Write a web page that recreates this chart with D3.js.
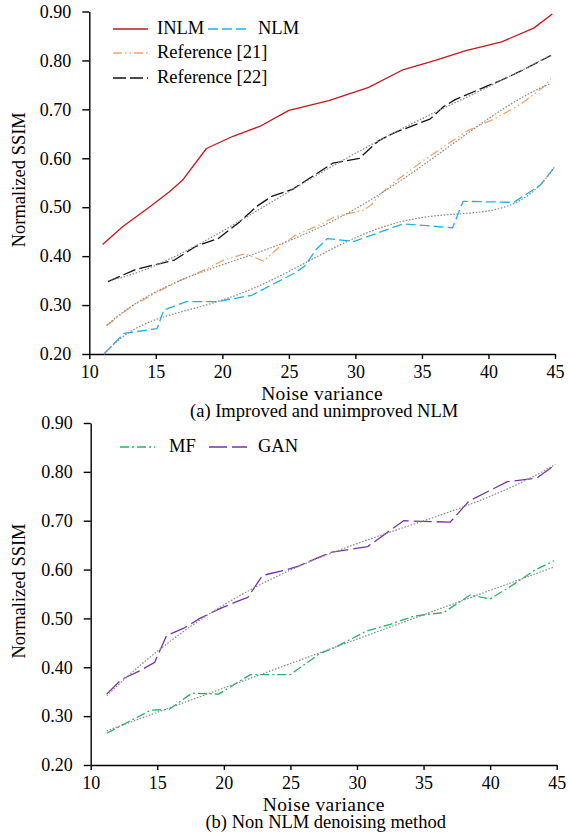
<!DOCTYPE html>
<html>
<head>
<meta charset="utf-8">
<script src="https://cdn.jsdelivr.net/npm/d3@7"></script>
<style>
  body { margin: 0; background: #fff; }
  svg { display: block; }
</style>
</head>
<body>
<svg id="chart" width="569" height="838"></svg>
<script>
// Axis ticks shared by both panels
const noiseTicks = [10, 15, 20, 25, 30, 35, 40, 45];
const ssimTicks = [0.2, 0.3, 0.4, 0.5, 0.6, 0.7, 0.8, 0.9];

// Panel (a): [noise variance, normalized SSIM]
const inlm = [[11, 0.424], [12.5, 0.46], [14.5, 0.50], [16, 0.531], [17, 0.555], [18.8, 0.62],
  [20.8, 0.645], [22.8, 0.665], [25, 0.698], [28, 0.718], [31, 0.745], [33.5, 0.78], [36, 0.80],
  [38.3, 0.82], [41, 0.838], [43.4, 0.866], [44.8, 0.895]];
const nlm = [[11.1, 0.20], [12.6, 0.242], [13.6, 0.246], [15.1, 0.252], [15.6, 0.29], [17.3, 0.307],
  [19.6, 0.307], [22.2, 0.32], [23.9, 0.344], [25.4, 0.365], [26.2, 0.38], [27, 0.412], [27.9, 0.436],
  [29.9, 0.43], [33.6, 0.466], [37.3, 0.458], [38.1, 0.512], [41.9, 0.51], [43.9, 0.545], [45, 0.583]];
const ref21 = [[11.3, 0.258], [13.2, 0.298], [15, 0.325], [16.8, 0.35], [18.5, 0.37], [20.1, 0.392],
  [21.7, 0.405], [23.1, 0.39], [24.4, 0.422], [25.5, 0.443], [27.4, 0.465], [28.4, 0.48], [30.6, 0.494],
  [31.2, 0.505], [32, 0.53], [33.1, 0.555], [35.1, 0.595], [37.1, 0.632], [38.4, 0.656], [40.4, 0.68],
  [42.4, 0.71], [44.1, 0.745], [44.7, 0.762]];
const ref22 = [[11.4, 0.348], [13.5, 0.373], [16.4, 0.392], [18, 0.42], [19.7, 0.436], [21.3, 0.47],
  [22.6, 0.502], [23.7, 0.522], [25.3, 0.537], [28.3, 0.59], [30.3, 0.60], [31.7, 0.635], [32.9, 0.652],
  [35.6, 0.68], [36.6, 0.705], [37.5, 0.72], [39.4, 0.742], [41, 0.76], [42.4, 0.778], [44.7, 0.81]];

// Panel (b)
const mf = [[11.2, 0.265], [12.6, 0.285], [14.5, 0.312], [15.9, 0.314], [17.6, 0.347], [19.6, 0.345],
  [22, 0.385], [25, 0.385], [27.2, 0.428], [28.3, 0.44], [30.7, 0.474], [32.5, 0.488], [34.3, 0.505],
  [36.5, 0.512], [38.5, 0.548], [40, 0.54], [41.5, 0.565], [43.3, 0.598], [44.8, 0.618]];
const gan = [[11.2, 0.345], [12.3, 0.375], [13.7, 0.393], [14.8, 0.41], [15.7, 0.465], [17, 0.48],
  [18.2, 0.50], [19.7, 0.52], [21, 0.535], [21.8, 0.543], [22.9, 0.588], [24.5, 0.598], [25.6, 0.607],
  [28, 0.635], [30.8, 0.647], [33.5, 0.70], [37, 0.697], [38.4, 0.74], [41.3, 0.78], [43.5, 0.787],
  [44.9, 0.815]];

const FONT = "Liberation Serif, Times New Roman, serif";
const svg = d3.select("#chart");

// Least-squares polynomial fit, returns a function of x
function polyFit(pts, order) {
  const n = order + 1;
  const A = Array.from({length: n}, () => new Array(n + 1).fill(0));
  pts.forEach(([px, py]) => {
    const t = (px - 28) / 17;
    for (let i = 0; i < n; i++) {
      for (let j = 0; j < n; j++) A[i][j] += Math.pow(t, i + j);
      A[i][n] += py * Math.pow(t, i);
    }
  });
  for (let c = 0; c < n; c++) {
    let p = c;
    for (let r = c + 1; r < n; r++) if (Math.abs(A[r][c]) > Math.abs(A[p][c])) p = r;
    [A[c], A[p]] = [A[p], A[c]];
    for (let r = 0; r < n; r++) {
      if (r === c) continue;
      const f = A[r][c] / A[c][c];
      for (let k = c; k <= n; k++) A[r][k] -= f * A[c][k];
    }
  }
  const coef = A.map((row, i) => row[n] / row[i]);
  return xv => {
    const t = (xv - 28) / 17;
    return coef.reduce((s, c, i) => s + c * Math.pow(t, i), 0);
  };
}

// Dotted trend curve sampled across the series' own x-range
function trendPoints(pts, order) {
  const f = polyFit(pts, order);
  const x0 = d3.min(pts, d => d[0]), x1 = d3.max(pts, d => d[0]);
  return d3.range(0, 81).map(i => {
    const xv = x0 + (x1 - x0) * i / 80;
    return [xv, f(xv)];
  });
}

function addText(g, x, y, str, size) {
  return g.append("text").attr("x", x).attr("y", y)
    .attr("font-family", FONT).attr("font-size", size).attr("fill", "#000").text(str);
}

function drawPanel(cfg) {
  const x = d3.scaleLinear().domain([10, 45]).range([cfg.left, cfg.right]);
  const y = d3.scaleLinear().domain([0.2, 0.9]).range([cfg.bottom, cfg.top]);
  const g = svg.append("g");

  const xAxis = g.append("g")
    .attr("transform", `translate(0,${cfg.bottom})`)
    .call(d3.axisBottom(x).tickValues(noiseTicks).tickSize(5).tickSizeOuter(0).tickPadding(6));
  const yAxis = g.append("g")
    .attr("transform", `translate(${cfg.left},0)`)
    .call(d3.axisLeft(y).tickValues(ssimTicks).tickFormat(d3.format(".2f"))
      .tickSize(7).tickSizeOuter(0).tickPadding(11));
  [xAxis, yAxis].forEach(a => {
    a.attr("font-family", FONT).attr("font-size", 18);
    a.selectAll("path, line").attr("stroke", "#000").attr("stroke-width", 1.4);
    a.selectAll("text").attr("fill", "#000");
  });

  const line = d3.line().x(d => x(d[0])).y(d => y(d[1]));

  cfg.series.forEach(s => {
    g.append("path").attr("d", line(s.data))
      .attr("fill", "none").attr("stroke", s.color).attr("stroke-width", 1.3)
      .attr("stroke-dasharray", s.dash).attr("stroke-linejoin", "round");
  });
  cfg.series.filter(s => s.trend).forEach(s => {
    g.append("path").attr("d", line(trendPoints(s.data, s.trend)))
      .attr("fill", "none").attr("stroke", "#8a8a8a").attr("stroke-width", 1.2)
      .attr("stroke-dasharray", "1.6,1.6");
  });

  // legend
  cfg.series.forEach(s => {
    g.append("line").attr("x1", s.lx).attr("x2", s.lx + s.lw)
      .attr("y1", s.ly - 5).attr("y2", s.ly - 5)
      .attr("stroke", s.color).attr("stroke-width", 1.3).attr("stroke-dasharray", s.dash);
    addText(g, s.tx, s.ly, s.name, 18.5);
  });

  const cx = (cfg.left + cfg.right) / 2;
  addText(g, cx, cfg.bottom + 46, "Noise variance", 19.5)
    .attr("letter-spacing", 0.4).attr("text-anchor", "middle");
  addText(g, cx + 2, cfg.bottom + 63, cfg.caption, 18.5).attr("text-anchor", "middle");
  addText(g, 0, 0, "Normalized SSIM", 18.5)
    .attr("transform", `translate(25,${(cfg.top + cfg.bottom) / 2 - 3}) rotate(-90)`)
    .attr("text-anchor", "middle");
}

drawPanel({
  left: 89.3, right: 555, top: 11.5, bottom: 354,
  caption: "(a) Improved and unimproved NLM",
  series: [
    {name: "INLM", data: inlm, color: "#c8161d", dash: null, trend: 0, lx: 113, lw: 35, tx: 157, ly: 34},
    {name: "NLM", data: nlm, color: "#1fb0ec", dash: "10,4", trend: 5, lx: 208, lw: 42, tx: 258, ly: 34},
    {name: "Reference [21]", data: ref21, color: "#f4a46a", dash: "9,3,1.5,3,1.5,3", trend: 4, lx: 113, lw: 35, tx: 157, ly: 58},
    {name: "Reference [22]", data: ref22, color: "#111111", dash: "13,4", trend: 4, lx: 113, lw: 35, tx: 157, ly: 83}
  ]
});

drawPanel({
  left: 90.7, right: 556.7, top: 423, bottom: 765,
  caption: "(b) Non NLM denoising method",
  series: [
    {name: "MF", data: mf, color: "#22b560", dash: "9,3,2,3", trend: 1, lx: 120, lw: 35, tx: 169, ly: 452},
    {name: "GAN", data: gan, color: "#7434a8", dash: "18,5", trend: 4, lx: 209, lw: 38, tx: 258, ly: 452}
  ]
});
</script>
</body>
</html>
